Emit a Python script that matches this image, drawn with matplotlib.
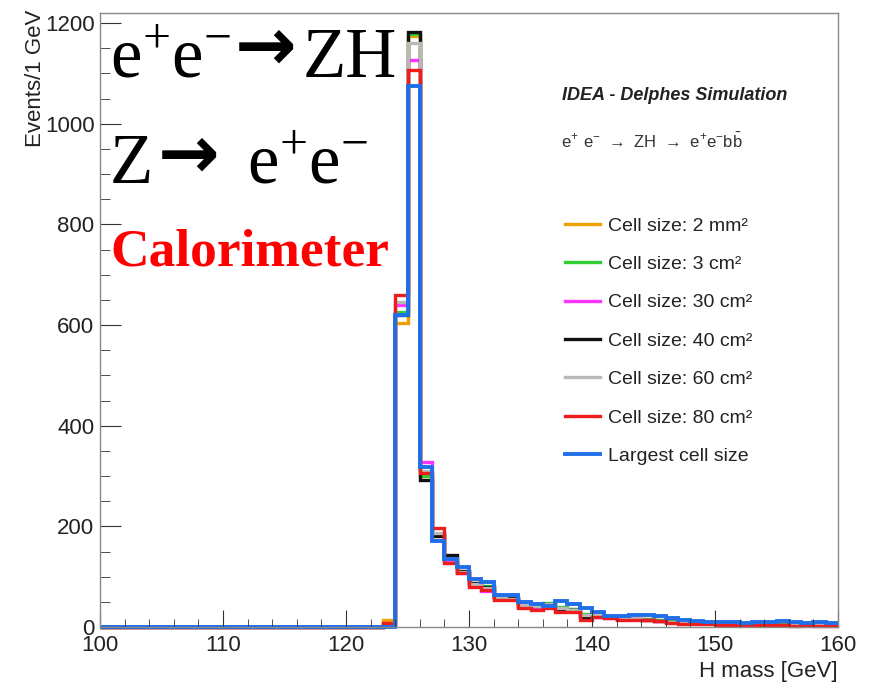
import numpy as np
import matplotlib
matplotlib.use("Agg")
import matplotlib.pyplot as plt
from matplotlib.ticker import MultipleLocator

plt.rcParams['font.family'] = ['Liberation Sans', 'DejaVu Sans']

# 1 GeV bins from 100 to 160 GeV; everything below 123 GeV is empty
edges = np.arange(100, 161)
first_bin = 123

# counts per bin for 123..159 GeV
cell_2mm2 = [14, 604, 1175, 300, 180, 138, 112, 88, 80, 60, 58, 44, 42, 44, 38, 35, 24, 22, 20, 18,
             16, 15, 13, 12, 10, 9, 8, 7, 7, 6, 6, 5, 6, 5, 4, 5, 4]
cell_3cm2 = [5, 626, 1178, 300, 183, 136, 110, 86, 82, 60, 57, 45, 44, 48, 40, 36, 26, 22, 20, 17,
             16, 15, 13, 11, 10, 9, 8, 7, 6, 6, 6, 5, 5, 5, 4, 4, 4]
cell_30cm2 = [3, 640, 1127, 328, 185, 130, 108, 82, 72, 58, 55, 42, 40, 44, 36, 33, 22, 20, 18, 16,
              15, 14, 12, 10, 9, 8, 7, 6, 6, 5, 5, 5, 4, 4, 4, 3, 3]
cell_40cm2 = [2, 620, 1182, 292, 180, 143, 112, 88, 80, 57, 58, 40, 42, 45, 36, 34, 20, 22, 22, 16,
              15, 14, 12, 10, 9, 8, 7, 7, 6, 5, 5, 5, 4, 4, 4, 3, 3]
cell_60cm2 = [4, 646, 1160, 310, 187, 135, 110, 85, 78, 60, 56, 43, 42, 46, 38, 34, 24, 21, 20, 16,
              15, 14, 12, 10, 9, 8, 7, 6, 6, 5, 5, 5, 4, 4, 4, 3, 3]
cell_80cm2 = [8, 660, 1107, 306, 197, 127, 107, 80, 74, 54, 54, 38, 34, 38, 30, 30, 14, 20, 18, 14,
              14, 13, 12, 8, 6, 6, 5, 4, 4, 3, 4, 3, 3, 2, 3, 2, 2]
cell_largest = [0, 620, 1075, 318, 170, 135, 119, 95, 89, 64, 64, 49, 46, 42, 52, 46, 38, 30, 22, 22,
                24, 24, 22, 18, 14, 12, 10, 10, 9, 8, 10, 9, 12, 9, 8, 10, 7]

labels = ['Cell size: 2 mm²', 'Cell size: 3 cm²', 'Cell size: 30 cm²', 'Cell size: 40 cm²',
          'Cell size: 60 cm²', 'Cell size: 80 cm²', 'Largest cell size']
series = [cell_2mm2, cell_3cm2, cell_30cm2, cell_40cm2, cell_60cm2, cell_80cm2, cell_largest]
colors = ['#f0a000', '#33cc33', '#ff33ff', '#111111', '#b8b8b8', '#ee1c1c', '#1f6fe8']

W, H = 872, 689
fig = plt.figure(figsize=(W / 100, H / 100), dpi=100)
ax = fig.add_axes([100 / W, 1 - 627 / H, 738 / W, 614 / H])


def full_hist(vals):
    counts = np.zeros(len(edges) - 1)
    counts[first_bin - 100:first_bin - 100 + len(vals)] = vals
    return counts


for vals, lab, col in zip(series, labels, colors):
    lw = 2.8 if lab.startswith('Largest') else 2.4
    ax.stairs(full_hist(vals), edges, color=col, lw=lw, baseline=None, label=lab, clip_on=False)

ax.set_xlim(100, 160)
ax.set_ylim(0, 1220)
ax.xaxis.set_major_locator(MultipleLocator(10))
ax.xaxis.set_minor_locator(MultipleLocator(2))
ax.yaxis.set_major_locator(MultipleLocator(200))
ax.yaxis.set_minor_locator(MultipleLocator(50))
ax.tick_params(which='both', direction='in', top=False, right=False, color='#333333',
               labelsize=16, labelcolor='#222222')
ax.tick_params(axis='x', which='major', length=12, pad=6)
ax.tick_params(axis='x', which='minor', length=6)
ax.tick_params(axis='y', which='major', length=15, pad=4)
ax.tick_params(axis='y', which='minor', length=7)
for sp in ax.spines.values():
    sp.set_color('#888888')
    sp.set_linewidth(1.0)

ax.set_xlabel('H mass [GeV]', fontsize=16, color='#222222', loc='right')
ax.xaxis.set_label_coords(1.0, -0.073)
ax.xaxis.label.set_va('center')
ax.set_ylabel('Events/1 GeV', fontsize=16, color='#222222', loc='top')
ax.yaxis.set_label_coords(-0.088, 1.006)
ax.yaxis.label.set_va('center')

leg = ax.legend(loc='upper left', bbox_to_anchor=(565 / W, 1 - 217 / H), bbox_transform=fig.transFigure,
                frameon=False, fontsize=14, handlelength=1.8, handletextpad=0.4,
                labelspacing=1.07, borderpad=0, borderaxespad=0)
for t in leg.get_texts():
    t.set_color('#222222')

fig.text(562 / W, 1 - 95 / H, 'IDEA - Delphes Simulation', fontsize=13, fontweight='bold',
         fontstyle='italic', color='#222222', va='center')
fig.text(561 / W, 1 - 141 / H,
         r'$\mathregular{e^{+}\ e^{-}\ \rightarrow\ ZH\ \rightarrow\ e^{+}e^{-}b\bar{b}}$',
         fontsize=12, color='#333333', va='center')

# big annotation on the left
serif = 'Liberation Serif'
fig.text(110 / W, 1 - 77 / H, r'$\mathregular{e^{+}e^{-}}$', fontsize=51, family=serif, va='baseline')
fig.text(235 / W, 1 - 70 / H, '→', fontsize=53, family='DejaVu Sans', fontweight='bold', va='baseline')
fig.text(303 / W, 1 - 77 / H, 'ZH', fontsize=51, family=serif, va='baseline')
fig.text(110 / W, 1 - 183 / H, 'Z', fontsize=51, family=serif, va='baseline')
fig.text(158 / W, 1 - 178 / H, '→', fontsize=53, family='DejaVu Sans', fontweight='bold', va='baseline')
fig.text(247 / W, 1 - 183 / H, r'$\mathregular{e^{+}e^{-}}$', fontsize=51, family=serif, va='baseline')
fig.text(110 / W, 1 - 265 / H, 'Calorimeter', fontsize=38.5, family=serif, fontweight='bold',
         color='#ff0000', va='baseline')

fig.savefig('out.png', dpi=100)
